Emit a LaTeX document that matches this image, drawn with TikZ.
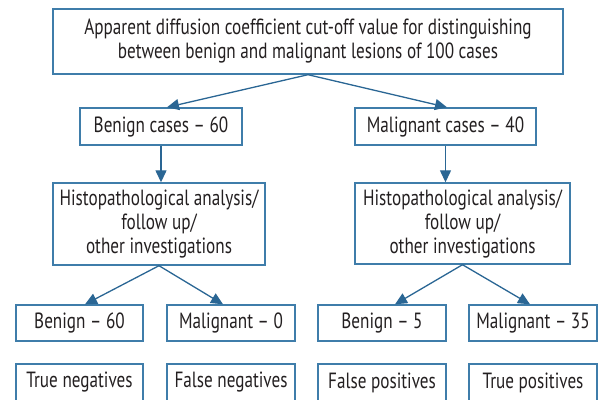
\documentclass[tikz,border=0pt]{standalone}
\usepackage{fontspec}
\setmainfont{PT Sans}[FakeStretch=0.78]
\usetikzlibrary{arrows.meta}
\definecolor{boxc}{HTML}{3F7DAA}
\definecolor{arrc}{HTML}{2A6694}
\definecolor{txtc}{HTML}{231F20}
\tikzset{
  bx/.style={draw=boxc, line width=1.4bp, inner sep=0pt, align=center, text=txtc,
    font=\fontsize{22bp}{24bp}\selectfont},
  arr/.style={draw=arrc, line width=1.3bp, -{Triangle[length=12bp,width=11bp]}}
}
\begin{document}
\begin{tikzpicture}[x=1bp,y=-1bp]
\useasboundingbox (0,0) rectangle (599,399);
\clip (0,0) rectangle (599,399);
\node[bx, minimum width=510bp, minimum height=65bp] (top) at (308,41.5)
  {Apparent diffusion coefficient cut-off value for distinguishing\\between benign and malignant lesions of 100 cases};
\node[bx, minimum width=162bp, minimum height=37bp] (bc) at (161,126.5) {Benign cases -- 60};
\node[bx, minimum width=181bp, minimum height=37bp] (mc) at (445.5,126.5) {Malignant cases -- 40};
\node[bx, minimum width=212bp, minimum height=82bp] (h1) at (159,224) {Histopathological analysis/\\follow up/\\other investigations};
\node[bx, minimum width=215bp, minimum height=81bp] (h2) at (462.5,223.5) {Histopathological analysis/\\follow up/\\other investigations};
\node[bx, minimum width=127bp, minimum height=36bp] (b60) at (79.5,323) {Benign -- 60};
\node[bx, minimum width=128bp, minimum height=36bp] (m0) at (231,323) {Malignant -- 0};
\node[bx, minimum width=128bp, minimum height=36bp] (b5) at (382,323) {Benign -- 5};
\node[bx, minimum width=128bp, minimum height=36bp] (m35) at (533,323) {Malignant -- 35};
\node[bx, minimum width=127bp, minimum height=37bp] (tn) at (79.5,382.5) {True negatives};
\node[bx, minimum width=128bp, minimum height=37bp] (fn) at (231,382.5) {False negatives};
\node[bx, minimum width=128bp, minimum height=37bp] (fp) at (382,382.5) {False positives};
\node[bx, minimum width=128bp, minimum height=37bp] (tp) at (533,382.5) {True positives};
\draw[arr] (top.south) -- ([xshift=6bp]bc.north);
\draw[arr] (top.south) -- ([xshift=1.5bp]mc.north);
\draw[arr] (bc.south) -- (h1.north -| bc.south);
\draw[arr] (mc.south) -- (h2.north -| mc.south);
\draw[arr] (h1.south) -- ([xshift=5.5bp]b60.north);
\draw[arr] (h1.south) -- ([xshift=-8bp]m0.north);
\draw[arr] (h2.south) -- ([xshift=13bp]b5.north);
\draw[arr] (h2.south) -- ([xshift=-3bp]m35.north);
\end{tikzpicture}
\end{document}
